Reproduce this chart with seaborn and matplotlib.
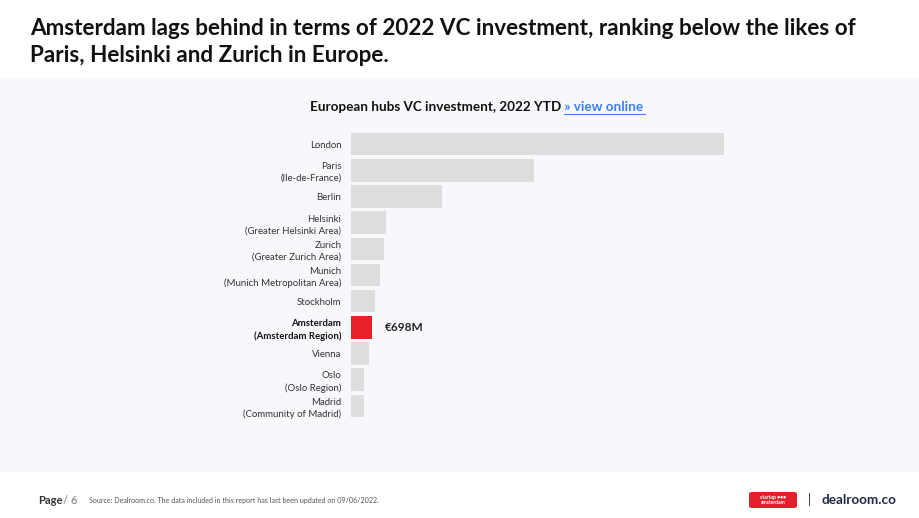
import matplotlib
matplotlib.use("Agg")
import matplotlib.pyplot as plt
from matplotlib.patches import Rectangle, FancyBboxPatch
import seaborn as sns
import pandas as pd

# values, EUR millions (only Amsterdam is labelled)
hubs = ["London", "Paris\n(Ile-de-France)", "Berlin", "Helsinki\n(Greater Helsinki Area)",
        "Zurich\n(Greater Zurich Area)", "Munich\n(Munich Metropolitan Area)", "Stockholm",
        "Amsterdam\n(Amsterdam Region)", "Vienna", "Oslo\n(Oslo Region)", "Madrid\n(Community of Madrid)"]
investment = [12400, 6100, 3010, 1160, 1100, 960, 790, 698, 610, 440, 430]
highlight = "Amsterdam\n(Amsterdam Region)"
highlight_label = "€698M"

title = "Amsterdam lags behind in terms of 2022 VC investment, ranking below the likes of\nParis, Helsinki and Zurich in Europe."
subtitle = "European hubs VC investment, 2022 YTD"
link = " » view online"
source = "Source: Dealroom.co. The data included in this report has last been updated on 09/06/2022."

sns.set_style("white")
plt.rcParams["font.family"] = ["Lato", "DejaVu Sans"]

df = pd.DataFrame({"hub": hubs, "value": investment})
palette = {h: ("#e8202a" if h == highlight else "#dddddd") for h in hubs}

W, H = 920, 518
fig = plt.figure(figsize=(9.2, 5.18), dpi=100)
fig.patch.set_facecolor("white")

# light panel behind the chart
fig.patches.append(Rectangle((0, 1 - 472 / H), 1, (472 - 78) / H, transform=fig.transFigure,
                             facecolor="#f6f8fb", edgecolor="none", zorder=-5))

ax = fig.add_axes([351 / W, 1 - 419 / H, 391 / W, 288 / H])
ax.set_zorder(2)
ax.set_facecolor("none")
sns.barplot(data=df, x="value", y="hub", hue="hub", palette=palette, legend=False,
            width=0.86, ax=ax, saturation=1, linewidth=0)
ax.set_xlim(0, 13000)
ax.set_ylim(10.5, -0.5)
ax.set_xlabel("")
ax.set_ylabel("")
ax.set_xticks([])
sns.despine(ax=ax, left=True, bottom=True)
ax.tick_params(axis="y", length=0, pad=7, labelsize=6.9, labelcolor="#333333")
for lab in ax.get_yticklabels():
    lab.set_linespacing(1.4)
    if lab.get_text() == highlight:
        lab.set_fontweight("bold")
        lab.set_color("#111111")

i = hubs.index(highlight)
ax.annotate(highlight_label, (investment[i], i), xytext=(9, 0), textcoords="offset points",
            va="center", ha="left", fontsize=8.5, fontweight="bold", color="#222222")

fig.text(30 / W, 1 - 42 / H, title, fontsize=16.2, fontweight="bold", color="#111111",
         va="center", ha="left", linespacing=1.35)

fig.text(561 / W, 1 - 107 / H, subtitle, fontsize=9.7, fontweight="bold", color="#111111",
         ha="right", va="center")
fig.text(561 / W, 1 - 107 / H, link, fontsize=9.7, fontweight="bold", color="#3d7ef5",
         ha="left", va="center")
fig.add_artist(plt.Line2D([564 / W, 645 / W], [1 - 113.5 / H, 1 - 113.5 / H], color="#3d7ef5", lw=0.8))

# footer
fig.text(38 / W, 1 - 500 / H, "Page", fontsize=8, fontweight="bold", color="#333333", va="center")
fig.text(63 / W, 1 - 500 / H, "/ 6", fontsize=8, color="#777777", va="center")
fig.text(89 / W, 1 - 500 / H, source, fontsize=5.15, color="#555555", va="center")
fig.patches.append(FancyBboxPatch((749 / W, 1 - 508 / H), 48 / W, 16 / H, transform=fig.transFigure,
                                  boxstyle="round,pad=0,rounding_size=0.004", facecolor="#e3202a",
                                  edgecolor="none"))
fig.text(773 / W, 1 - 500 / H, "startup ●●●\namsterdam", fontsize=3.6, color="white", ha="center",
         va="center", linespacing=0.9, fontweight="bold")
fig.text(809 / W, 1 - 500 / H, "|", fontsize=9, color="#1f2a44", ha="center", va="center")
fig.text(822 / W, 1 - 500 / H, "dealroom.co", fontsize=9.7, fontweight="bold", color="#1f2a44",
         ha="left", va="center")

fig.savefig("out.png", dpi=100, facecolor="white")
